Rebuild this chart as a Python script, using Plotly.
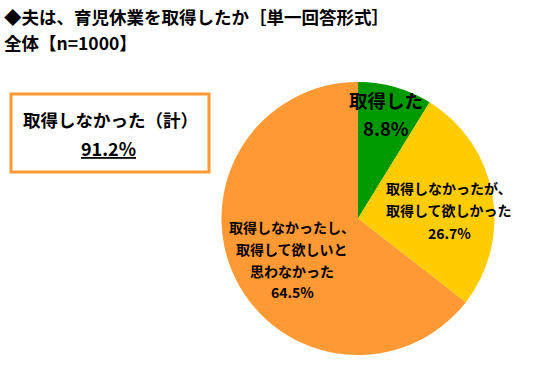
import plotly.graph_objects as go

categories = ["取得した", "取得しなかったが、<br>取得して欲しかった", "取得しなかったし、<br>取得して欲しいと<br>思わなかった"]
values = [8.8, 26.7, 64.5]
colors = ["#009900", "#FFCC00", "#FF9933"]
title_lines = ["◆夫は、育児休業を取得したか［単一回答形式］", "全体【n=1000】"]
box_label = "取得しなかった（計）"
box_value = round(values[1] + values[2], 1)

W, H = 545, 389
FONT = "Noto Sans CJK JP"

fig = go.Figure(go.Pie(
    labels=categories, values=values, sort=False, direction="clockwise",
    rotation=0, marker=dict(colors=colors, line=dict(width=0)),
    textinfo="none", hoverinfo="skip", showlegend=False,
    domain=dict(x=[221 / W, 495 / W], y=[1 - 355 / H, 1 - 82 / H]),
))


def add_text(text, px, py, size, xanchor="center", yanchor="middle", align="center"):
    fig.add_annotation(
        x=px / W, y=1 - py / H, xref="paper", yref="paper",
        text=f"<b>{text}</b>", showarrow=False,
        font=dict(family=FONT, size=size, color="#000000"),
        xanchor=xanchor, yanchor=yanchor, align=align,
    )


# slice labels: (centre x, first-line y, line step, font size)
label_layout = [(386, 100, 28, 18.5), (449, 188, 22.5, 14), (292, 227, 21.8, 14)]
for cat, v, (px, py, step, fs) in zip(categories, values, label_layout):
    lines = cat.split("<br>") + [f"{v:.1f}%"]
    for i, ln in enumerate(lines):
        add_text(ln, px, py + i * step, fs)

# title
add_text(title_lines[0], 2, 17, 17.5, xanchor="left", align="left")
add_text(title_lines[1], 2, 43, 17.5, xanchor="left", align="left")

# summary box
fig.add_shape(type="rect", xref="paper", yref="paper",
              x0=11 / W, x1=209 / W, y0=1 - 172 / H, y1=1 - 94 / H,
              line=dict(color="#FF9933", width=3), fillcolor="#FFFFFF")
add_text(box_label, 110, 120, 17.5)
add_text(f"<u>{box_value:.1f}%</u>", 108, 148, 18)

fig.update_layout(
    width=W, height=H, margin=dict(l=0, r=0, t=0, b=0),
    paper_bgcolor="#FFFFFF", plot_bgcolor="#FFFFFF",
)
fig.write_html("out.html", config={"displayModeBar": False},
               post_script="document.body.style.margin='0';")
